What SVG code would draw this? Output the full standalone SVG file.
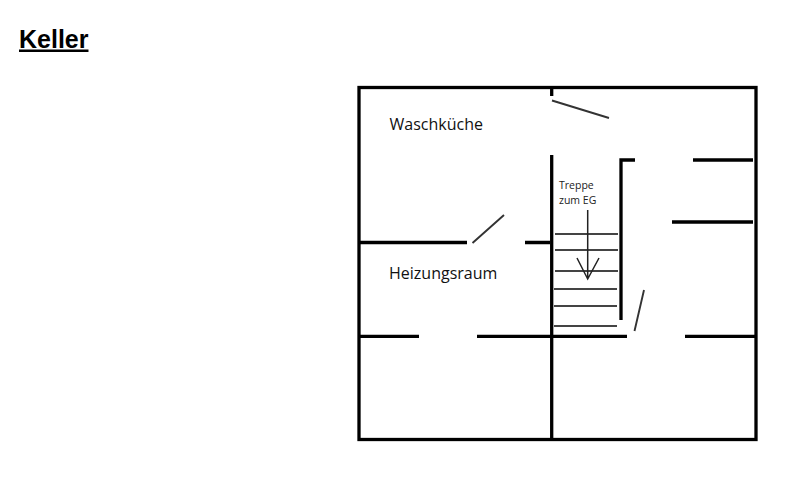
<svg xmlns="http://www.w3.org/2000/svg" width="810" height="485" viewBox="0 0 810 485">
<style>
.wall{stroke:#000;stroke-width:3.3;fill:none}
.door{stroke:#333;stroke-width:1.9;fill:none}
.step{stroke:#444;stroke-width:1.8;fill:none}
.arrow{stroke:#222;stroke-width:1.5;fill:none}
.room{font-family:"Open Sans","Noto Sans",sans-serif;font-size:16px;fill:#111}
.small{font-family:"Open Sans","Noto Sans",sans-serif;font-size:10.5px;fill:#222}
</style>
<rect width="810" height="485" fill="#fff"/>
<text id="title" x="19" y="47.5" font-family="Liberation Sans, Arial, sans-serif" font-size="25" font-weight="700" text-decoration="underline" fill="#000">Keller</text>
<g id="walls">
<rect class="wall" x="359" y="87.5" width="397" height="352"/>
<path class="wall" d="M551.7 88V96M551.7 155V440M359 242.5H467M525 242.5H550M359 336.3H419M477 336.3H627M685 336.3H756M621 320V160H635M693 160H753M672 222H753"/>
</g>
<g id="doors">
<path class="door" d="M552 100.5L609 118M472.5 243L504 215M634.5 331L644 290"/>
</g>
<g id="stairs">
<path class="step" d="M555 234H618M555 250H618M555 271H618M554 289H617M554 306H617M554 326H617"/>
<path class="arrow" d="M587.7 210V279M577 258L587.7 279L599 258"/>
<text class="small" x="559" y="189">Treppe</text>
<text class="small" x="559" y="204">zum EG</text>
</g>
<g id="room-waschkueche"><text class="room" x="389.5" y="130">Waschküche</text></g>
<g id="room-heizungsraum"><text class="room" x="389" y="279">Heizungsraum</text></g>
</svg>
